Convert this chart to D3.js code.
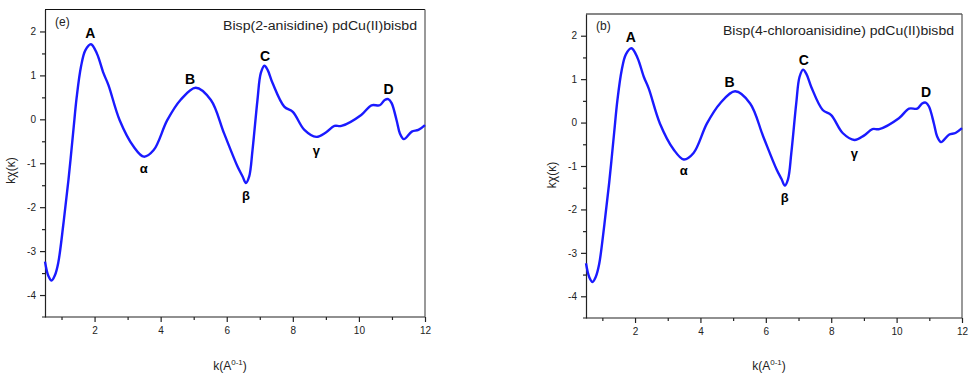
<!DOCTYPE html>
<html>
<head>
<meta charset="utf-8">
<script src="https://cdn.jsdelivr.net/npm/d3@7"></script>
<style>
  body { margin: 0; background: #fff; }
  svg text { font-family: "Liberation Sans", Arial, sans-serif; }
</style>
</head>
<body>
<div id="chart"></div>
<script>
// k values (A^-1) and k*chi(k), same curve in both panels
var kValues = [0.5, 0.6, 0.7, 0.8, 0.9, 1.06, 1.21, 1.36, 1.46, 1.59, 1.72, 1.89, 2.07, 2.27, 2.42,
  2.76, 3.18, 3.49, 3.79, 4.2, 4.6, 5.06, 5.52, 5.92, 6.33, 6.48, 6.58, 6.68, 6.78, 6.93,
  7.03, 7.14, 7.24, 7.39, 7.74, 8.0, 8.35, 8.71, 9.0, 9.26, 9.47, 10.07, 10.38, 10.63,
  10.78, 10.89, 10.99, 11.14, 11.24, 11.36, 11.6, 11.8, 12];
var chiE = [-3.24, -3.56, -3.67, -3.55, -3.27, -2.36, -1.38, -0.24, 0.51, 1.2, 1.57, 1.71, 1.5, 1.05, 0.78,
  -0.02, -0.62, -0.85, -0.7, -0.02, 0.44, 0.72, 0.44, -0.32, -1.08, -1.3, -1.45, -1.3, -0.7, 0.44,
  1.05, 1.22, 1.12, 0.82, 0.29, 0.17, -0.24, -0.4, -0.3, -0.15, -0.15, 0.1, 0.32, 0.32,
  0.44, 0.46, 0.37, -0.02, -0.32, -0.45, -0.28, -0.24, -0.13];
var chiB = chiE.slice();

var xTicks = [2, 4, 6, 8, 10, 12];
var yTicks = [-4, -3, -2, -1, 0, 1, 2];

// peak / valley labels: [text, k, value]
var peakLabels = [["A", 1.87, 1.96], ["B", 4.89, 0.93], ["C", 7.16, 1.44], ["D", 10.9, 0.7]];
var valleyLabels = [["α", 3.49, -1.11], ["β", 6.58, -1.72], ["γ", 8.71, -0.7]];

var panels = [
  {tag: "(e)", title: "Bisp(2-anisidine) pdCu(II)bisbd", titleWidth: 194, values: chiE,
   left: 45, right: 425, top: 9.5, bottom: 317},
  {tag: "(b)", title: "Bisp(4-chloroanisidine) pdCu(II)bisbd", titleWidth: 231, values: chiB,
   left: 586, right: 962, top: 14, bottom: 318}
];

var svg = d3.select("#chart").append("svg")
    .attr("width", 971)
    .attr("height", 376);

panels.forEach(function(p) {
  var x = d3.scaleLinear().domain([0.5, 12]).range([p.left, p.right]);
  var y = d3.scaleLinear().domain([-4.5, 2.5]).range([p.bottom, p.top]);
  var g = svg.append("g");

  // minor ticks
  var xMinor = d3.range(1, 12, 2);
  var yMinor = [-3.5, -2.5, -1.5, -0.5, 0.5, 1.5];

  g.append("g")
    .attr("transform", "translate(0," + p.bottom + ")")
    .call(d3.axisBottom(x).tickValues(xMinor).tickSize(3).tickFormat(""))
    .call(function(a) { a.select(".domain").remove(); });
  g.append("g")
    .attr("transform", "translate(" + p.left + ",0)")
    .call(d3.axisLeft(y).tickValues(yMinor).tickSize(3).tickFormat(""))
    .call(function(a) { a.select(".domain").remove(); });

  var xa = g.append("g")
    .attr("transform", "translate(0," + p.bottom + ")")
    .call(d3.axisBottom(x).tickValues(xTicks).tickSize(5).tickSizeOuter(0).tickPadding(5));
  var ya = g.append("g")
    .attr("transform", "translate(" + p.left + ",0)")
    .call(d3.axisLeft(y).tickValues(yTicks).tickSize(5).tickSizeOuter(0).tickPadding(4)
      .tickFormat(function(d) { return String(d); }));
  xa.select(".domain").attr("d", "M" + (p.left - 3) + ",0H" + p.right);
  [xa, ya].forEach(function(a) {
    a.selectAll("text").attr("font-size", 10).attr("fill", "#222")
      .attr("font-family", "Liberation Sans, Arial, sans-serif");
    a.selectAll("line, path").attr("stroke", "#222").attr("stroke-width", 1.2);
  });
  g.selectAll(".tick line").attr("stroke", "#222").attr("stroke-width", 1.2);

  // frame top and right
  g.append("line").attr("x1", p.left).attr("x2", p.right).attr("y1", p.top).attr("y2", p.top)
    .attr("stroke", "#111").attr("stroke-width", 1.2);
  g.append("line").attr("x1", p.right).attr("x2", p.right).attr("y1", p.top).attr("y2", p.bottom)
    .attr("stroke", "#555").attr("stroke-width", 1.2);

  var line = d3.line()
    .x(function(d, i) { return x(kValues[i]); })
    .y(function(d) { return y(d); })
    .curve(d3.curveCatmullRom.alpha(0.5));

  g.append("path")
    .datum(p.values)
    .attr("d", line)
    .attr("fill", "none")
    .attr("stroke", "#1a1aff")
    .attr("stroke-width", 2.4);

  g.selectAll(".peak").data(peakLabels).enter().append("text")
    .attr("x", function(d) { return x(d[1]); })
    .attr("y", function(d) { return y(d[2]); })
    .attr("dy", "0.36em")
    .attr("text-anchor", "middle")
    .attr("font-size", 14)
    .attr("font-weight", "bold")
    .text(function(d) { return d[0]; });

  g.selectAll(".valley").data(valleyLabels).enter().append("text")
    .attr("x", function(d) { return x(d[1]); })
    .attr("y", function(d) { return y(d[2]); })
    .attr("dy", "0.36em")
    .attr("text-anchor", "middle")
    .attr("font-size", 13)
    .attr("font-weight", "bold")
    .text(function(d) { return d[0]; });

  g.append("text")
    .attr("x", p.left + 10).attr("y", p.top + 16)
    .attr("font-size", 12).attr("fill", "#222")
    .text(p.tag);
  g.append("text")
    .attr("x", p.right - 8 - p.titleWidth).attr("y", p.top + 20.5)
    .attr("font-size", 12.5).attr("fill", "#222")
    .attr("textLength", p.titleWidth)
    .attr("lengthAdjust", "spacingAndGlyphs")
    .text(p.title);

  // axis titles
  g.append("text")
    .attr("transform", "translate(" + (p.left - 30) + "," + (p.top + 161) + ") rotate(-90)")
    .attr("text-anchor", "middle")
    .attr("font-size", 12).attr("fill", "#222")
    .text("kχ(κ)");

  var xt = g.append("text")
    .attr("x", (p.left + p.right) / 2 - 5).attr("y", 370)
    .attr("text-anchor", "middle")
    .attr("font-size", 12).attr("fill", "#222");
  xt.append("tspan").text("k(A");
  xt.append("tspan").attr("dy", -5).attr("font-size", 8).text("0-1");
  xt.append("tspan").attr("dy", 5).text(")");
});
</script>
</body>
</html>
